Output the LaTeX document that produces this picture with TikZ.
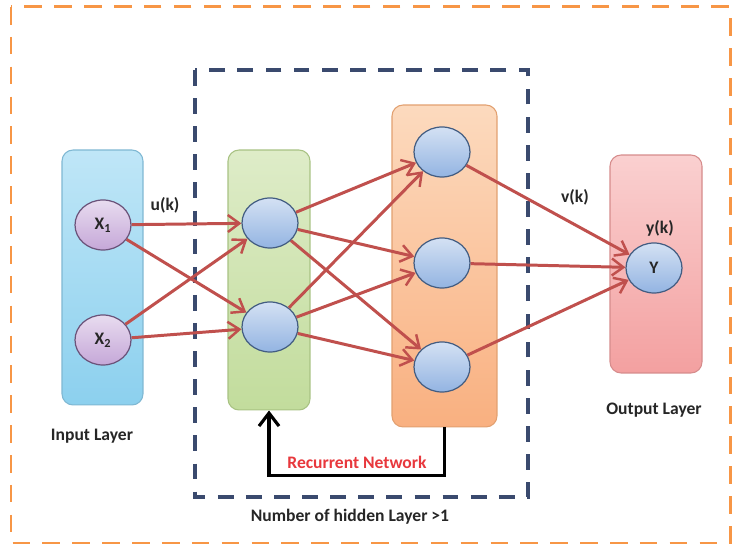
\documentclass[tikz,border=0pt]{standalone}
\usepackage{fontspec}
\setmainfont{Carlito}
\usetikzlibrary{shapes.geometric,arrows.meta}

\definecolor{linkred}{HTML}{C0504D}
\definecolor{framenavy}{HTML}{3A4A6E}
\definecolor{frameorange}{HTML}{F79646}
\definecolor{txtgray}{HTML}{262626}
\definecolor{nodeblue}{HTML}{6F9BD8}
\definecolor{nodeviolet}{HTML}{B28ACB}

\tikzset{
  layerbox/.style={rectangle,rounded corners=0.22cm,inner sep=0,line width=0.6pt},
  neuron/.style={ellipse,inner sep=0,minimum width=1.12cm,minimum height=1.0cm,
    draw=#1!60!black,line width=0.7pt,top color=#1!30,bottom color=#1!75},
  link/.style={draw=linkred,line width=1.7pt,-{Straight Barb[length=2.3mm,width=3.4mm,line width=1.4pt]}},
  lbl/.style={font=\fontsize{10}{12}\selectfont\bfseries,text=txtgray,inner sep=1pt}
}

\begin{document}
\begin{tikzpicture}[x=0.02cm,y=-0.02cm]
\useasboundingbox (0,0) rectangle (733,546);
\fill[white] (0,0) rectangle (733,546);

% outer and hidden frames
\draw[frameorange,line width=1.7pt,dash pattern=on 10pt off 7pt] (11,7) rectangle (730,543);
\draw[framenavy,line width=1.9pt,dash pattern=on 9pt off 7pt] (195,70) rectangle (528,497);

% layer boxes
\node[layerbox,draw={rgb,255:red,127;green,184;blue,211},
  top color={rgb,255:red,191;green,230;blue,247},bottom color={rgb,255:red,140;green,208;blue,238},
  minimum width=1.62cm,minimum height=5.1cm] (inbox) at (102.5,277.5) {};
\node[layerbox,draw={rgb,255:red,168;green,194;blue,131},
  top color={rgb,255:red,222;green,236;blue,200},bottom color={rgb,255:red,194;green,220;blue,156},
  minimum width=1.64cm,minimum height=5.2cm] (habox) at (269,280) {};
\node[layerbox,draw={rgb,255:red,226;green,160;blue,112},
  top color={rgb,255:red,252;green,218;blue,190},bottom color={rgb,255:red,249;green,176;blue,128},
  minimum width=2.1cm,minimum height=6.44cm] (hbbox) at (444.5,266) {};
\node[layerbox,draw={rgb,255:red,214;green,140;blue,140},
  top color={rgb,255:red,250;green,208;blue,208},bottom color={rgb,255:red,243;green,160;blue,160},
  minimum width=1.84cm,minimum height=4.36cm] (outbox) at (656,264) {};

% neurons
\node[neuron=nodeviolet,lbl] (x1) at (103,225) {X\textsubscript{1}};
\node[neuron=nodeviolet,lbl] (x2) at (103,340) {X\textsubscript{2}};
\node[neuron=nodeblue] (ha1) at (270,223) {};
\node[neuron=nodeblue] (ha2) at (270,327) {};
\node[neuron=nodeblue] (hb1) at (442,152) {};
\node[neuron=nodeblue] (hb2) at (442,263) {};
\node[neuron=nodeblue] (hb3) at (442,367) {};
\node[neuron=nodeblue,lbl] (y) at (654,268) {Y};

% weighted links
\foreach \a in {x1,x2}
  \foreach \b in {ha1,ha2}
    \draw[link] (\a) -- (\b);
\foreach \a in {ha1,ha2}
  \foreach \b in {hb1,hb2,hb3}
    \draw[link] (\a) -- (\b);
\foreach \a in {hb1,hb2,hb3}
  \draw[link] (\a) -- (y);

% recurrent loop
\draw[black,line width=2.2pt,-{Straight Barb[length=2.6mm,width=4mm,line width=1.8pt]}]
  (hbbox.south) -- ++(0,48) -| (habox.south);

% labels
\node[lbl] (uk) at (165,205) {u(k)};
\node[lbl] (vk) at (575,197) {v(k)};
\node[lbl] (yk) at (660,228) {y(k)};
\node[lbl] (inlbl) at (92,436) {Input Layer};
\node[lbl] (outlbl) at (654,410) {Output Layer};
\node[lbl,text={rgb,255:red,232;green,56;blue,61}] (reclbl) at (357,462) {Recurrent Network};
\node[lbl] (hidlbl) at (350,517) {Number of hidden Layer >1};
\end{tikzpicture}
\end{document}
